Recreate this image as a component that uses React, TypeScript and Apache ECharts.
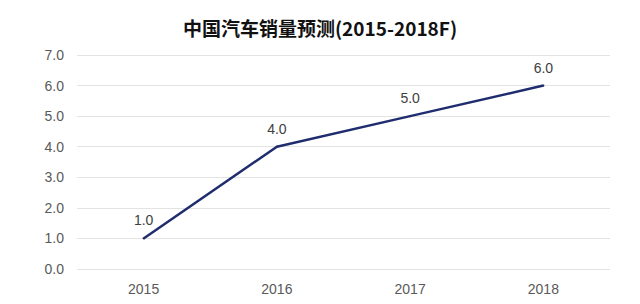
import React, { useEffect, useRef } from "react";
import * as echarts from "echarts";

const title = "中国汽车销量预测(2015-2018F)";
const years = ["2015", "2016", "2017", "2018"];
const sales = [1.0, 4.0, 5.0, 6.0];

const latin = "Arial";

export default function App() {
  const ref = useRef<HTMLDivElement>(null);
  useEffect(() => {
    if (!ref.current) return;
    const chart = echarts.init(ref.current, null, { renderer: "svg" });
    chart.setOption({
      animation: false,
      backgroundColor: "#ffffff",
      title: {
        text: title,
        left: "center",
        top: 13,
        textStyle: {
          fontSize: 19,
          fontWeight: "bold",
          color: "#111111",
          fontFamily: "Noto Sans CJK SC",
        },
      },
      grid: { left: 77, right: 30, top: 55, bottom: 35 },
      xAxis: {
        type: "category",
        data: years,
        boundaryGap: true,
        axisLine: { show: false },
        axisTick: { show: false },
        axisLabel: {
          color: "#595959",
          fontSize: 14,
          margin: 13,
          fontFamily: latin,
        },
      },
      yAxis: {
        type: "value",
        min: 0,
        max: 7,
        interval: 1,
        axisLine: { show: false },
        axisTick: { show: false },
        axisLabel: {
          color: "#595959",
          fontSize: 14,
          margin: 13,
          formatter: (v: number) => v.toFixed(1),
          fontFamily: latin,
        },
        splitLine: { lineStyle: { color: "#e3e3e3", width: 1 } },
      },
      series: [
        {
          type: "line",
          data: sales,
          symbol: "circle",
          symbolSize: 2,
          showSymbol: true,
          itemStyle: { color: "#1f2d6e", borderWidth: 0 },
          lineStyle: { color: "#1f2d6e", width: 2.5 },
          label: {
            show: true,
            position: "top",
            distance: 10,
            color: "#404040",
            fontSize: 14,
            fontFamily: latin,
            formatter: (p: any) => Number(p.value).toFixed(1),
          },
        },
      ],
    });
    return () => chart.dispose();
  }, []);
  return <div ref={ref} style={{ width: 640, height: 304, margin: -8 }} />;
}
